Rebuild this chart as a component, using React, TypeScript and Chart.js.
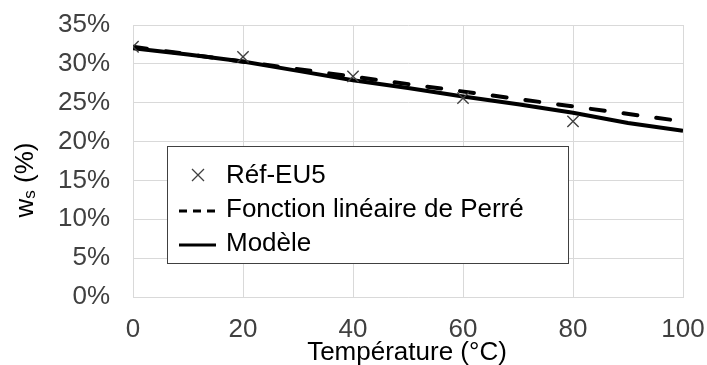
import React, { useEffect, useRef } from "react";
import { Chart, registerables } from "chart.js";

Chart.register(...registerables);

const refX = [0, 20, 40, 60, 80];
const refY = [32.2, 30.9, 28.4, 25.6, 22.6];
const perreX = [0, 100];
const perreY = [32.2, 22.6];
const modelX = [0, 10, 20, 30, 40, 50, 60, 70, 80, 90, 100];
const modelY = [32.0, 31.2, 30.3, 29.1, 27.9, 26.9, 25.8, 24.8, 23.7, 22.4, 21.4];
const xTicks = [0, 20, 40, 60, 80, 100];
const legendLabels = ["Réf-EU5", "Fonction linéaire de Perré", "Modèle"];
const xTitle = "Température (°C)";

const FONT = "Arial, 'Liberation Sans', sans-serif";
const FS = 26;

const overlay = {
  id: "overlay",
  afterDraw(chart: any) {
    const ctx = chart.ctx;
    ctx.save();
    // y title with subscript
    ctx.translate(26, 180);
    ctx.rotate(-Math.PI / 2);
    ctx.fillStyle = "#000";
    ctx.textBaseline = "middle";
    const big = `${FS}px ${FONT}`;
    const small = `17px ${FONT}`;
    ctx.font = big;
    const wW = ctx.measureText("w").width;
    ctx.font = small;
    const sW = ctx.measureText("s").width;
    ctx.font = big;
    const rest = " (%)";
    const rW = ctx.measureText(rest).width;
    const total = wW + sW + rW;
    const x0 = -total / 2;
    ctx.textAlign = "left";
    ctx.fillText("w", x0, 0);
    ctx.font = small;
    ctx.fillText("s", x0 + wW, 4);
    ctx.font = big;
    ctx.fillText(rest, x0 + wW + sW, 0);
    ctx.restore();

    // x title
    ctx.save();
    ctx.font = `${FS}px ${FONT}`;
    ctx.fillStyle = "#000";
    ctx.textAlign = "center";
    ctx.textBaseline = "middle";
    ctx.fillText(xTitle, 407, 353);
    ctx.restore();

    // legend
    ctx.save();
    const L = 167, T = 146, R = 568, B = 263;
    ctx.fillStyle = "#fff";
    ctx.fillRect(L, T, R - L, B - T);
    ctx.strokeStyle = "#404040";
    ctx.lineWidth = 1;
    ctx.strokeRect(L + 0.5, T + 0.5, R - L, B - T);
    ctx.font = `${FS}px ${FONT}`;
    ctx.fillStyle = "#000";
    ctx.textAlign = "left";
    ctx.textBaseline = "middle";
    const rows = [176, 210, 244];
    // marker
    ctx.strokeStyle = "#404040";
    ctx.lineWidth = 1.3;
    ctx.beginPath();
    ctx.moveTo(192, 169); ctx.lineTo(204, 181);
    ctx.moveTo(204, 169); ctx.lineTo(192, 181);
    ctx.stroke();
    // dashed
    ctx.strokeStyle = "#000";
    ctx.lineWidth = 3;
    ctx.setLineDash([8, 6]);
    ctx.beginPath();
    ctx.moveTo(179, rows[1] + 1); ctx.lineTo(217, rows[1] + 1);
    ctx.stroke();
    ctx.setLineDash([]);
    ctx.beginPath();
    ctx.moveTo(179, rows[2] + 1); ctx.lineTo(216, rows[2] + 1);
    ctx.stroke();
    legendLabels.forEach((t, i) => ctx.fillText(t, 226, rows[i]));
    ctx.restore();
  },
};

export default function App() {
  const ref = useRef<HTMLCanvasElement>(null);
  useEffect(() => {
    document.body.style.margin = "0";
    const chart = new Chart(ref.current!, {
      type: "scatter",
      data: {
        datasets: [
          {
            label: legendLabels[0],
            data: refX.map((x, i) => ({ x, y: refY[i] })),
            pointStyle: "crossRot",
            pointRadius: 8,
            borderColor: "#404040",
            borderWidth: 1.4,
            showLine: false,
            order: 0,
          },
          {
            label: legendLabels[1],
            data: perreX.map((x, i) => ({ x, y: perreY[i] })),
            showLine: true,
            borderColor: "#000",
            borderWidth: 4,
            borderDash: [14, 19],
            borderCapStyle: "round",
            pointRadius: 0,
            order: 1,
          },
          {
            label: legendLabels[2],
            data: modelX.map((x, i) => ({ x, y: modelY[i] })),
            showLine: true,
            borderColor: "#000",
            borderWidth: 4,
            pointRadius: 0,
            order: 2,
          },
        ],
      },
      options: {
        responsive: false,
        animation: false,
        layout: { padding: { left: 0, top: 25, right: 24, bottom: 0 } },
        plugins: { legend: { display: false }, tooltip: { enabled: false } },
        scales: {
          x: {
            type: "linear",
            min: 0,
            max: 100,
            afterBuildTicks: (s: any) => {
              s.ticks = xTicks.map((v) => ({ value: v }));
            },
            afterFit: (s: any) => {
              s.height = 68;
              s.paddingLeft = 0;
              s.paddingRight = 0;
            },
            grid: { color: "#d9d9d9", lineWidth: 1, drawTicks: false },
            border: { color: "#d9d9d9" },
            ticks: {
              padding: 17,
              color: "#404040",
              font: { family: FONT, size: FS },
              maxRotation: 0,
            },
          },
          y: {
            min: 0,
            max: 35,
            afterFit: (s: any) => {
              s.width = 133;
              s.paddingTop = 0;
              s.paddingBottom = 0;
            },
            grid: { color: "#d9d9d9", lineWidth: 1, drawTicks: false },
            border: { color: "#d9d9d9" },
            ticks: {
              stepSize: 5,
              padding: 23,
              color: "#404040",
              font: { family: FONT, size: FS },
              callback: (v: any) => v + "%",
            },
          },
        },
      },
      plugins: [overlay],
    });
    return () => chart.destroy();
  }, []);
  return <canvas ref={ref} width={707} height={365} style={{ display: "block" }} />;
}
